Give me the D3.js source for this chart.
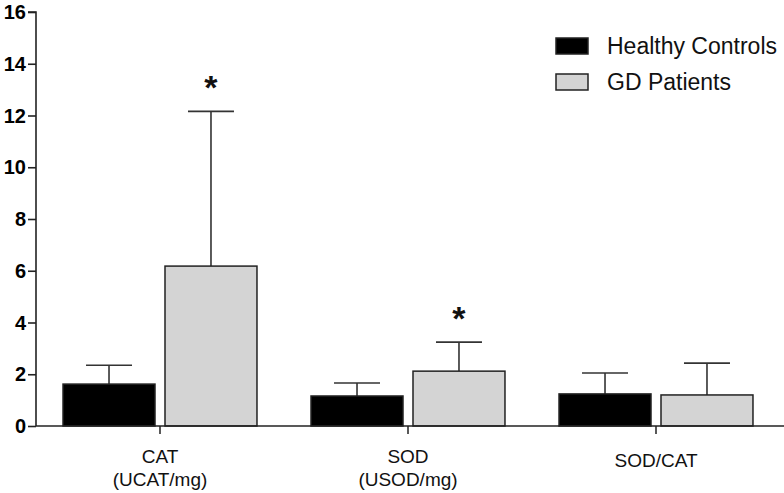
<!DOCTYPE html>
<html>
<head>
<meta charset="utf-8">
<script src="https://cdn.jsdelivr.net/npm/d3@7"></script>
<style>
  html, body { margin: 0; padding: 0; background: #fff; }
  svg { display: block; font-family: "Liberation Sans", Arial, sans-serif; }
</style>
</head>
<body>
<svg id="chart" width="784" height="493"></svg>
<script>
const categories = ["CAT", "SOD", "SOD/CAT"];
const categoryUnits = ["(UCAT/mg)", "(USOD/mg)", ""];
const seriesNames = ["Healthy Controls", "GD Patients"];
const healthyMeans = [1.62, 1.16, 1.24];
const healthySD = [0.73, 0.50, 0.81];
const gdMeans = [6.18, 2.12, 1.20];
const gdSD = [5.98, 1.12, 1.23];
const significant = [true, true, false];
const yTicks = [0, 2, 4, 6, 8, 10, 12, 14, 16];
const colors = ["#000000", "#d4d4d4"];

(function () {
const svg = d3.select("#chart");
const mLeft = 36, mRight = 780, mTop = 12, mBottom = 426;

const x0 = d3.scaleBand().domain(categories).range([mLeft, mRight]).padding(0);
const x1 = d3.scaleBand().domain(seriesNames).range([0, x0.bandwidth()])
  .paddingInner(0.098).paddingOuter(0.265);
const y = d3.scaleLinear().domain([0, 16]).range([mBottom, mTop]);

const data = categories.map((c, i) => ({
  cat: c,
  sig: significant[i],
  vals: [
    { s: seriesNames[0], m: healthyMeans[i], sd: healthySD[i], color: colors[0] },
    { s: seriesNames[1], m: gdMeans[i], sd: gdSD[i], color: colors[1] }
  ]
}));

const groups = svg.append("g").selectAll("g").data(data).join("g")
  .attr("transform", d => `translate(${x0(d.cat)},0)`);

groups.selectAll("g.err").data(d => d.vals).join("g").attr("class", "err")
  .each(function(d) {
    const g = d3.select(this);
    const cx = x1(d.s) + x1.bandwidth() / 2;
    const cw = x1.bandwidth() / 4;
    g.append("line").attr("x1", cx).attr("x2", cx)
      .attr("y1", y(d.m)).attr("y2", y(d.m + d.sd))
      .attr("stroke", "#333").attr("stroke-width", 1.6);
    g.append("line").attr("x1", cx - cw).attr("x2", cx + cw)
      .attr("y1", y(d.m + d.sd)).attr("y2", y(d.m + d.sd))
      .attr("stroke", "#333").attr("stroke-width", 1.6);
  });

groups.selectAll("rect").data(d => d.vals).join("rect")
  .attr("x", d => x1(d.s))
  .attr("width", x1.bandwidth())
  .attr("y", d => y(d.m))
  .attr("height", d => y(0) - y(d.m))
  .attr("fill", d => d.color)
  .attr("stroke", "#222")
  .attr("stroke-width", 1.5);

groups.filter(d => d.sig).append("text")
  .attr("x", d => x1(seriesNames[1]) + x1.bandwidth() / 2)
  .attr("y", d => y(d.vals[1].m + d.vals[1].sd) - 12)
  .attr("text-anchor", "middle")
  .style("font-size", "34px")
  .style("font-weight", "bold")
  .attr("fill", "#111")
  .text("*");

const yAxis = d3.axisLeft(y).tickValues(yTicks).tickSize(8).tickFormat("");
const ya = svg.append("g").attr("transform", `translate(${mLeft},0)`).call(yAxis);
ya.select(".domain").attr("stroke", "#222").attr("stroke-width", 1.6).attr("d", `M-8,${mTop}H0V${mBottom}`);
ya.selectAll(".tick line").attr("stroke", "#222").attr("stroke-width", 1.6);

svg.append("g").selectAll("text").data(yTicks).join("text")
  .attr("x", mLeft - 10)
  .attr("y", d => y(d))
  .attr("dy", "0.35em")
  .attr("text-anchor", "end")
  .attr("font-family", "'Liberation Sans', Arial, sans-serif")
  .attr("font-size", 20)
  .attr("font-weight", "bold")
  .attr("fill", "#000")
  .text(d => d);

const xa = svg.append("g").attr("transform", `translate(0,${mBottom})`);
xa.append("line").attr("x1", mLeft).attr("x2", 784).attr("y1", 0).attr("y2", 0)
  .attr("stroke", "#222").attr("stroke-width", 1.6);
xa.selectAll("line.tk").data(categories).join("line").attr("class", "tk")
  .attr("x1", d => x0(d) + x0.bandwidth() / 2).attr("x2", d => x0(d) + x0.bandwidth() / 2)
  .attr("y1", 0).attr("y2", 8).attr("stroke", "#222").attr("stroke-width", 1.5);

const labels = svg.append("g").selectAll("text").data(categories).join("text")
  .attr("text-anchor", "middle")
  .style("font-size", "19px")
  .attr("fill", "#111")
  .attr("transform", (d, i) => `translate(${x0(d) + x0.bandwidth() / 2},${categoryUnits[i] ? 463 : 467})`);
labels.append("tspan").attr("x", 0).attr("y", 0).text(d => d);
labels.append("tspan").attr("x", 0).attr("y", 23).text((d, i) => categoryUnits[i]);

const legend = svg.append("g").selectAll("g").data(seriesNames).join("g")
  .attr("transform", (d, i) => `translate(556,${38 + i * 36})`);
legend.append("rect").attr("width", 32).attr("height", 16)
  .attr("fill", (d, i) => colors[i]).attr("stroke", "#222").attr("stroke-width", 1.5);
legend.append("text").attr("x", 51).attr("y", 16).style("font-size", "23px").attr("fill", "#111").text(d => d);
})();
</script>
</body>
</html>
